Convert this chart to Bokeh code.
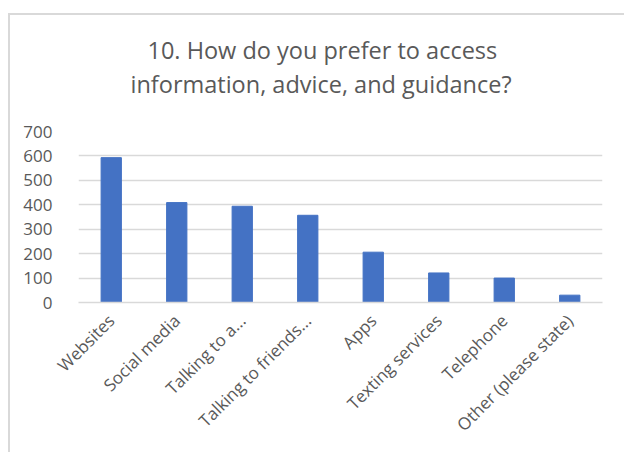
import math
from bokeh.plotting import figure
from bokeh.models import Title
from bokeh.layouts import column
from bokeh.embed import file_html
from bokeh.resources import INLINE

categories = ["Websites", "Social media", "Talking to a...", "Talking to friends...",
              "Apps", "Texting services", "Telephone", "Other (please state)"]
counts = [593, 409, 394, 357, 206, 121, 100, 30]
y_ticks = [0, 100, 200, 300, 400, 500, 600, 700]
title_lines = ["10. How do you prefer to access", "information, advice, and guidance?"]

FONT = "Open Sans"
TXT = "#595959"
GRID = "#d9d9d9"

p = figure(x_range=categories, y_range=(0, 700), width=614, height=437,
           output_backend="svg", toolbar_location=None,
           min_border_left=68, min_border_right=22, min_border_bottom=150,
           min_border_top=0, border_fill_color=None)

p.vbar(x=categories, top=counts, width=0.31, color="#4472C4")

spacer = Title(text=" ", text_font=FONT, text_font_size="22px", standoff=0)
t2 = Title(text=title_lines[1], align="left", text_font=FONT, text_font_size="23.5px",
           text_font_style="normal", text_color=TXT, offset=52, standoff=0)
t1 = Title(text=title_lines[0], align="left", text_font=FONT, text_font_size="23.5px",
           text_font_style="normal", text_color=TXT, offset=69, standoff=0)
top_spacer = Title(text=" ", text_font=FONT, text_font_size="10.5px", standoff=0)
p.add_layout(spacer, "above")
p.add_layout(t2, "above")
p.add_layout(t1, "above")
p.add_layout(top_spacer, "above")

p.outline_line_color = None
p.xgrid.grid_line_color = None
p.ygrid.grid_line_color = GRID
p.ygrid.grid_line_width = 1.3
p.yaxis.ticker = y_ticks
p.yaxis.axis_line_color = None
p.yaxis.major_tick_line_color = None
p.yaxis.minor_tick_line_color = None
p.yaxis.major_label_standoff = 20
p.yaxis.major_label_text_font = FONT
p.yaxis.major_label_text_font_size = "17px"
p.yaxis.major_label_text_color = TXT

p.xaxis.axis_line_color = GRID
p.xaxis.axis_line_width = 1.3
p.xaxis.major_tick_line_color = None
p.xaxis.minor_tick_line_color = None
p.xaxis.major_label_orientation = math.pi / 4
p.xaxis.major_label_standoff = 9
p.xaxis.major_label_text_baseline = "bottom"
p.xaxis.major_label_text_font = FONT
p.xaxis.major_label_text_font_size = "17px"
p.xaxis.major_label_text_color = TXT
p.x_range.range_padding = 0

layout = column(p, styles={"border-left": "2px solid #d9d9d9",
                           "border-top": "2px solid #d9d9d9",
                           "background-color": "white"})
layout.margin = (13, 0, 0, 8)

open("out.html", "w").write(file_html(layout, INLINE))
